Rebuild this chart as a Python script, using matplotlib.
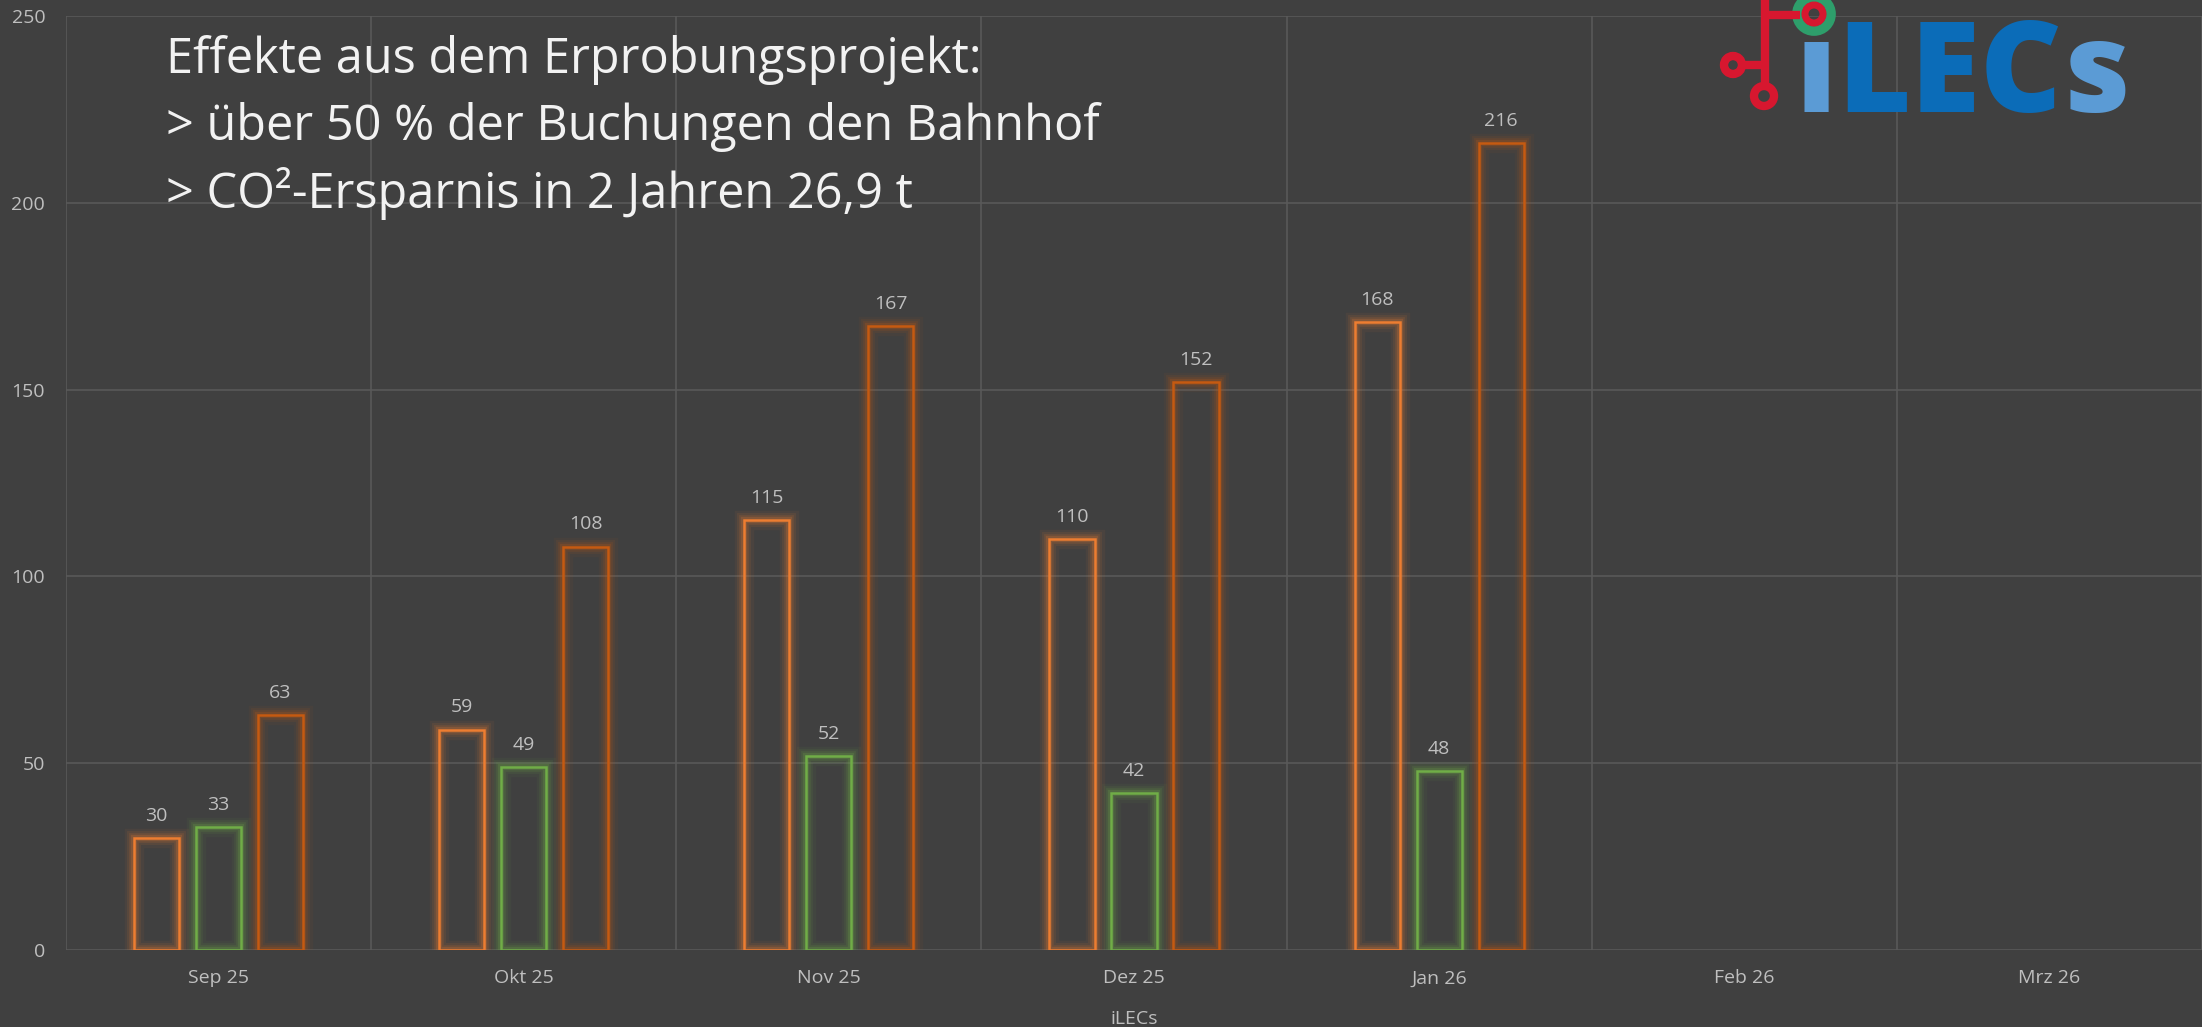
import matplotlib.pyplot as plt
import numpy as np
from matplotlib.patches import Circle

plt.rcParams['font.family'] = ['Open Sans', 'DejaVu Sans']

# chart data
months = ["Sep 25", "Okt 25", "Nov 25", "Dez 25", "Jan 26", "Feb 26", "Mrz 26"]
series_a = [30, 59, 115, 110, 168]
series_b = [33, 49, 52, 42, 48]
series_c = [63, 108, 167, 152, 216]

title_lines = [
	"Effekte aus dem Erprobungsprojekt:",
	"> über 50 % der Buchungen den Bahnhof",
	"> CO²-Ersparnis in 2 Jahren 26,9 t",
]

bg = "#404040"
grid_col = "#595959"
label_col = "#bfbfbf"
colors = ["#ED7D31", "#70AD47", "#C55A11"]

fig = plt.figure(figsize=(22.02, 10.27), dpi=100, facecolor=bg)
ax = fig.add_axes([66 / 2202, 77 / 1027, 2136 / 2202, 934 / 1027])
ax.set_facecolor(bg)

x = np.arange(len(months))
width = 0.148
step = 0.203

def glow_bars(xpos, values, color):
	# soft glow: a few wide transparent outlines under the real one
	for lw, alpha in [(14, 0.06), (10, 0.09), (7, 0.13), (4.5, 0.2)]:
		ax.bar(xpos, values, width, facecolor="none", edgecolor=color,
			linewidth=lw, alpha=alpha, zorder=2)
	return ax.bar(xpos, values, width, facecolor="none", edgecolor=color,
		linewidth=1.8, zorder=3)

for i, vals in enumerate([series_a, series_b, series_c]):
	xpos = x[:len(vals)] + (i - 1) * step
	glow_bars(xpos, vals, colors[i])
	for xp, v in zip(xpos, vals):
		ax.text(xp, v + 3.5, str(v), ha="center", va="bottom",
			color=label_col, fontsize=14)

ax.set_xlim(-0.5, len(months) - 0.5)
ax.set_ylim(0, 250)
ax.set_yticks(range(0, 251, 50))
ax.set_xticks(x)
ax.set_xticklabels(months)
ax.set_xticks(np.arange(-0.5, len(months), 1), minor=True)
ax.tick_params(axis="both", which="both", length=0, colors=label_col, labelsize=14)
ax.tick_params(axis="x", pad=14)
ax.tick_params(axis="y", pad=15)
ax.grid(axis="y", color=grid_col, linewidth=1.2, zorder=0)
ax.grid(axis="x", which="minor", color=grid_col, linewidth=1.2, zorder=0)
for s in ax.spines.values():
	s.set_visible(False)
ax.set_xlabel("iLECs", color=label_col, fontsize=14, labelpad=16)

for k, line in enumerate(title_lines):
	fig.text(166 / 2202, 1 - (60 + k * 67) / 1027, line, color="#f2f2f2",
		fontsize=35, ha="left", va="center")

# logo, drawn in pixel space on an overlay axes
lax = fig.add_axes([0, 0, 1, 1], facecolor="none")
lax.set_xlim(0, 2202)
lax.set_ylim(1027, 0)
lax.axis("off")
red = "#D7172F"
lax.plot([1765, 1765], [0, 86], color=red, lw=6, solid_capstyle="butt")
lax.plot([1765, 1800], [15, 15], color=red, lw=6, solid_capstyle="butt")
lax.plot([1742, 1765], [65, 65], color=red, lw=6, solid_capstyle="butt")
lax.add_patch(Circle((1733, 65), 9, fill=False, ec=red, lw=6))
lax.add_patch(Circle((1764, 96), 10, fill=False, ec=red, lw=6))
lax.add_patch(Circle((1814, 14), 17, fill=False, ec="#2E9E6B", lw=7))
lax.add_patch(Circle((1814, 14), 9, fill=False, ec=red, lw=5))

# place the logo letters side by side using their measured widths
renderer = fig.canvas.get_renderer()
xcur = 1795
for part, col in [("ı", "#5B9BD5"), ("LEC", "#0B6CB8"), ("s", "#5B9BD5")]:
	t = lax.text(xcur, 112, part, color=col, fontsize=91, fontweight="heavy",
		va="baseline", ha="left")
	bb = t.get_window_extent(renderer)
	xcur += bb.width + 1

fig.savefig("out.png", dpi=100, facecolor=bg)
